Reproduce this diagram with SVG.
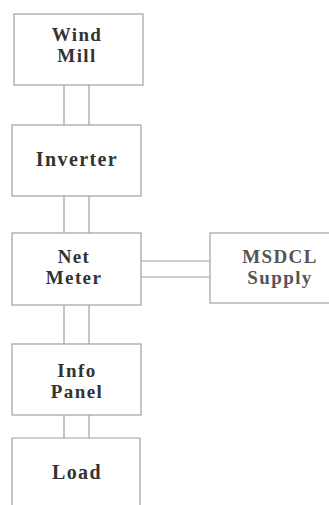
<svg xmlns="http://www.w3.org/2000/svg" width="329" height="505" viewBox="0 0 329 505">
<style>
.box{fill:#fff;stroke:#a0a0a0;stroke-width:1.2}
.c line{stroke:#a0a0a0;stroke-width:1.2}
text{font-family:"Liberation Serif","Times New Roman",serif;font-weight:bold;font-size:19px;letter-spacing:1.4px;fill:#333;text-anchor:middle}
.big{font-size:20px}
</style>
<rect width="329" height="505" fill="#fff"/>
<g class="c" id="connectors">
<line x1="64" y1="85" x2="64" y2="125"/><line x1="89" y1="85" x2="89" y2="125"/>
<line x1="64" y1="196" x2="64" y2="233"/><line x1="89" y1="196" x2="89" y2="233"/>
<line x1="64" y1="305" x2="64" y2="344"/><line x1="89" y1="305" x2="89" y2="344"/>
<line x1="64" y1="415" x2="64" y2="438"/><line x1="89" y1="415" x2="89" y2="438"/>
<line x1="141" y1="261" x2="210" y2="261"/><line x1="141" y1="277" x2="210" y2="277"/>
</g>
<g id="windmill"><rect class="box" x="14" y="14" width="129" height="71"/><text x="77" y="41">Wind</text><text x="77" y="62">Mill</text></g>
<g id="inverter"><rect class="box" x="12" y="125" width="129" height="71"/><text class="big" x="77" y="166">Inverter</text></g>
<g id="netmeter"><rect class="box" x="12" y="233" width="129" height="72"/><text x="74" y="263">Net</text><text x="74" y="284">Meter</text></g>
<g id="msdcl"><rect class="box" x="210" y="233" width="130" height="70"/><text x="280" y="263" style="fill:#555">MSDCL</text><text x="280" y="284" style="fill:#555">Supply</text></g>
<g id="infopanel"><rect class="box" x="12" y="344" width="129" height="71"/><text x="77" y="377">Info</text><text x="77" y="398">Panel</text></g>
<g id="load"><path class="box" d="M12 506 V438 H140 V506"/><text class="big" x="77" y="479">Load</text></g>
</svg>
